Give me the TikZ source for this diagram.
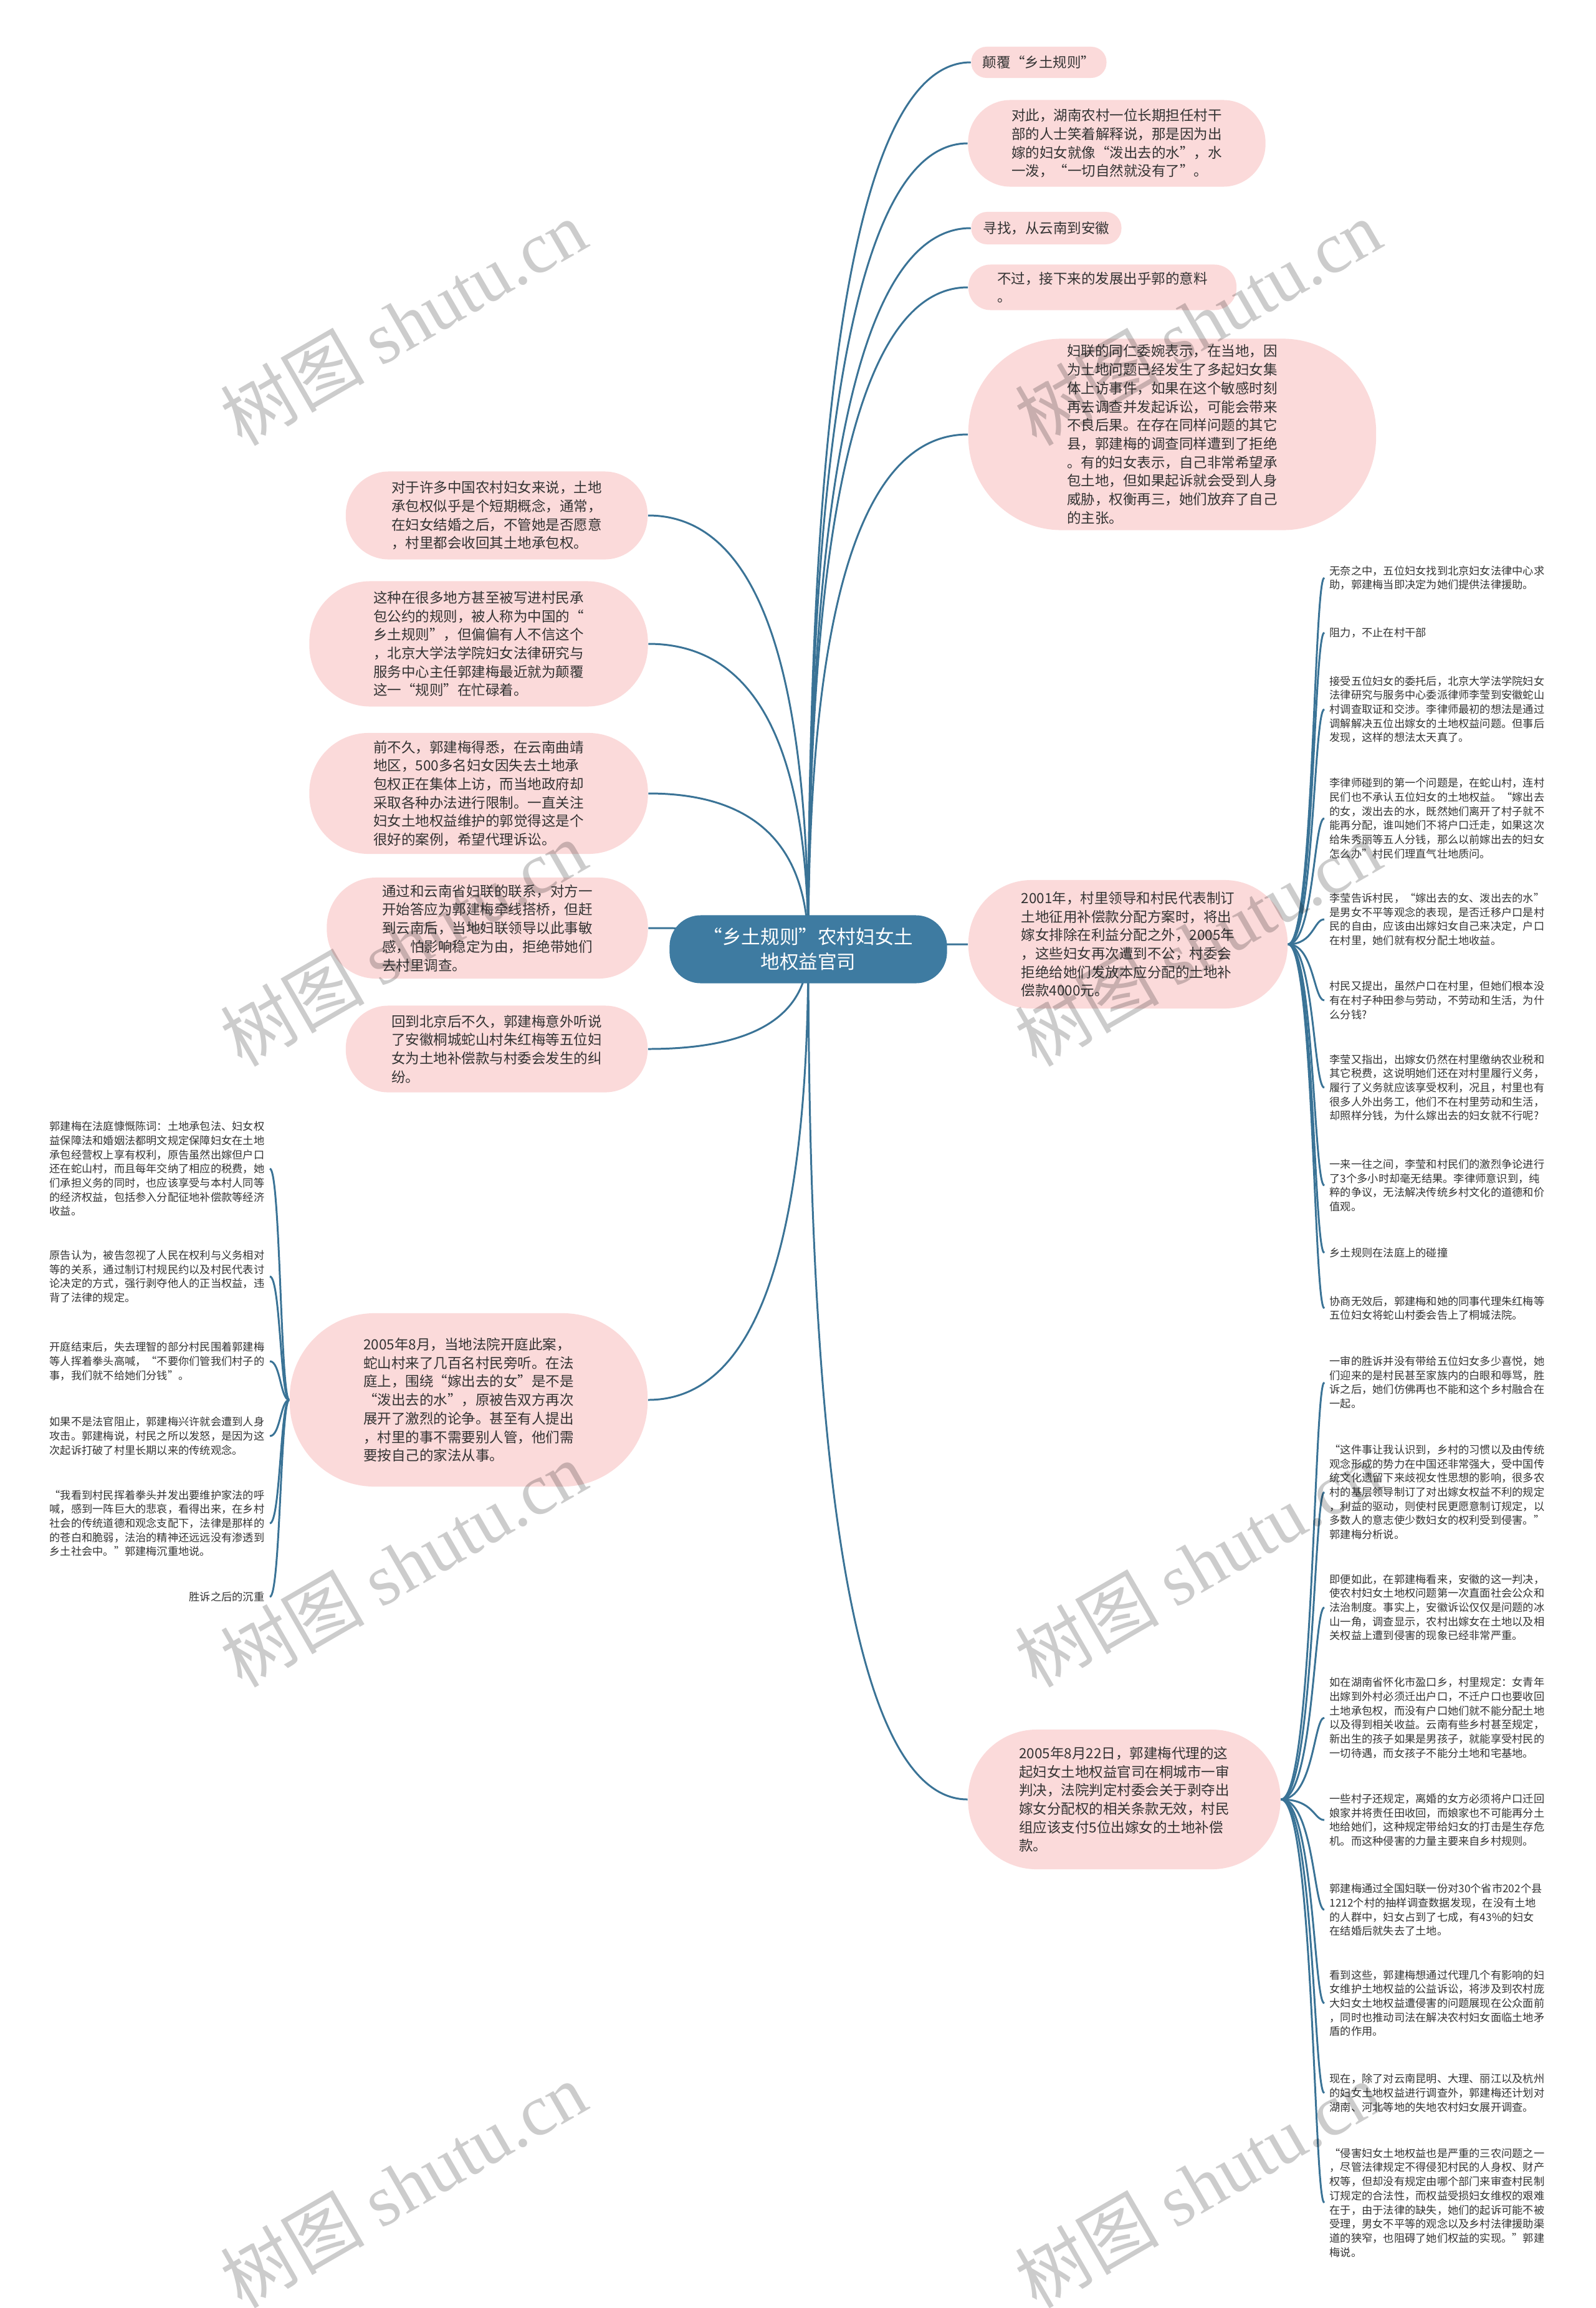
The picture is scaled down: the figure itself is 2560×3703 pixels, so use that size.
\documentclass[tikz,border=0pt]{standalone}
\usepackage{fontspec}
\setmainfont{Noto Sans CJK SC}
\newfontfamily\wmlatin{Liberation Serif}
\usetikzlibrary{calc,backgrounds}
\definecolor{hubblue}{RGB}{62,123,161}
\definecolor{linkblue}{RGB}{58,115,150}
\definecolor{pillpink}{RGB}{251,218,218}
\definecolor{textgray}{RGB}{51,51,51}
\tikzset{
  hub/.style={
    fill=hubblue,
    text=white,
    rounded corners=0.5cm,
    align=center,
    inner sep=0pt,
    font=\fontsize{8.7}{11.4}\selectfont
  },
  pill/.style={
    fill=pillpink,
    text=textgray,
    align=left,
    inner sep=0pt,
    font=\fontsize{6.4}{8.45}\selectfont
  },
  note/.style={
    text=textgray,
    align=left,
    inner ysep=0pt,
    inner xsep=0.08cm,
    font=\fontsize{4.9}{6.45}\selectfont
  },
  link/.style={
    draw=linkblue,
    line width=0.85pt
  },
  wmark/.style={
    rotate=30,
    text=black,
    text opacity=0.2,
    inner sep=0pt,
    font=\fontsize{33}{33}\selectfont
  }
}
% curve that leaves the hub vertically and meets the node horizontally
\newcommand\qlink[2]{\draw[link] (#1) .. controls ($(#1)!.667!(#1 |- #2)$) and ($(#2)!.667!(#1 |- #2)$) .. (#2);}

\begin{document}
\begin{tikzpicture}[x=0.01cm,y=-0.01cm]
\useasboundingbox (0,0) rectangle (2560,3703);

% hub
\node[hub,minimum width=4.45cm,minimum height=1.09cm] (hub) at (1297,1523) {“乡土规则”农村妇女土\\地权益官司};

% right side
\node[pill,minimum width=2.17cm,minimum height=0.5cm,rounded corners=0.245cm] (r1) at (1667,100) {颠覆“乡土规则”};
\node[pill,minimum width=4.77cm,minimum height=1.39cm,rounded corners=0.68cm] (r2) at (1792,230) {对此，湖南农村一位长期担任村干\\部的人士笑着解释说，那是因为出\\嫁的妇女就像“泼出去的水”，水\\一泼，“一切自然就没有了”。};
\node[pill,minimum width=2.41cm,minimum height=0.52cm,rounded corners=0.255cm] (r3) at (1679,366) {寻找，从云南到安徽};
\node[pill,minimum width=4.3cm,minimum height=0.73cm,rounded corners=0.355cm] (r4) at (1769,461) {不过，接下来的发展出乎郭的意料\\。};
\node[pill,minimum width=6.54cm,minimum height=3.07cm,rounded corners=1.5cm] (r5) at (1881,697) {妇联的同仁委婉表示，在当地，因\\为土地问题已经发生了多起妇女集\\体上访事件，如果在这个敏感时刻\\再去调查并发起诉讼，可能会带来\\不良后果。在存在同样问题的其它\\县，郭建梅的调查同样遭到了拒绝\\。有的妇女表示，自己非常希望承\\包土地，但如果起诉就会受到人身\\威胁，权衡再三，她们放弃了自己\\的主张。};
\node[pill,minimum width=5.12cm,minimum height=2.06cm,rounded corners=1.01cm] (r6) at (1810,1515) {2001年，村里领导和村民代表制订\\土地征用补偿款分配方案时，将出\\嫁女排除在利益分配之外，2005年\\，这些妇女再次遭到不公，村委会\\拒绝给她们发放本应分配的土地补\\偿款4000元。};
\node[pill,minimum width=5.01cm,minimum height=2.24cm,rounded corners=1.1cm] (r7) at (1804,2887) {2005年8月22日，郭建梅代理的这\\起妇女土地权益官司在桐城市一审\\判决，法院判定村委会关于剥夺出\\嫁女分配权的相关条款无效，村民\\组应该支付5位出嫁女的土地补偿\\款。};

% left side
\node[pill,minimum width=4.84cm,minimum height=1.41cm,rounded corners=0.69cm] (l1) at (797,827) {对于许多中国农村妇女来说，土地\\承包权似乎是个短期概念，通常，\\在妇女结婚之后，不管她是否愿意\\，村里都会收回其土地承包权。};
\node[pill,minimum width=5.43cm,minimum height=2.01cm,rounded corners=0.98cm] (l2) at (768,1033) {这种在很多地方甚至被写进村民承\\包公约的规则，被人称为中国的“\\乡土规则”，但偏偏有人不信这个\\，北京大学法学院妇女法律研究与\\服务中心主任郭建梅最近就为颠覆\\这一“规则”在忙碌着。};
\node[pill,minimum width=5.43cm,minimum height=1.94cm,rounded corners=0.95cm] (l3) at (768,1273) {前不久，郭建梅得悉，在云南曲靖\\地区，500多名妇女因失去土地承\\包权正在集体上访，而当地政府却\\采取各种办法进行限制。一直关注\\妇女土地权益维护的郭觉得这是个\\很好的案例，希望代理诉讼。};
\node[pill,minimum width=5.15cm,minimum height=1.62cm,rounded corners=0.79cm] (l4) at (782,1489) {通过和云南省妇联的联系，对方一\\开始答应为郭建梅牵线搭桥，但赶\\到云南后，当地妇联领导以此事敏\\感，怕影响稳定为由，拒绝带她们\\去村里调查。};
\node[pill,minimum width=4.84cm,minimum height=1.39cm,rounded corners=0.68cm] (l5) at (797,1683) {回到北京后不久，郭建梅意外听说\\了安徽桐城蛇山村朱红梅等五位妇\\女为土地补偿款与村委会发生的纠\\纷。};
\node[pill,minimum width=5.74cm,minimum height=2.78cm,rounded corners=1.36cm] (l6) at (752,2246) {2005年8月，当地法院开庭此案，\\蛇山村来了几百名村民旁听。在法\\庭上，围绕“嫁出去的女”是不是\\“泼出去的水”，原被告双方再次\\展开了激烈的论争。甚至有人提出\\，村里的事不需要别人管，他们需\\要按自己的家法从事。};

% notes of r6
\node[note,anchor=west] (a1) at (2125,927) {无奈之中，五位妇女找到北京妇女法律中心求\\助，郭建梅当即决定为她们提供法律援助。};
\node[note,anchor=west] (a2) at (2125,1015) {阻力，不止在村干部};
\node[note,anchor=west] (a3) at (2125,1138) {接受五位妇女的委托后，北京大学法学院妇女\\法律研究与服务中心委派律师李莹到安徽蛇山\\村调查取证和交涉。李律师最初的想法是通过\\调解解决五位出嫁女的土地权益问题。但事后\\发现，这样的想法太天真了。};
\node[note,anchor=west] (a4) at (2125,1313) {李律师碰到的第一个问题是，在蛇山村，连村\\民们也不承认五位妇女的土地权益。“嫁出去\\的女，泼出去的水，既然她们离开了村子就不\\能再分配，谁叫她们不将户口迁走，如果这次\\给朱秀丽等五人分钱，那么以前嫁出去的妇女\\怎么办”村民们理直气壮地质问。};
\node[note,anchor=west] (a5) at (2125,1475) {李莹告诉村民，“嫁出去的女、泼出去的水”\\是男女不平等观念的表现，是否迁移户口是村\\民的自由，应该由出嫁妇女自己来决定，户口\\在村里，她们就有权分配土地收益。};
\node[note,anchor=west] (a6) at (2125,1605) {村民又提出，虽然户口在村里，但她们根本没\\有在村子种田参与劳动，不劳动和生活，为什\\么分钱?};
\node[note,anchor=west] (a7) at (2125,1745) {李莹又指出，出嫁女仍然在村里缴纳农业税和\\其它税费，这说明她们还在对村里履行义务，\\履行了义务就应该享受权利，况且，村里也有\\很多人外出务工，他们不在村里劳动和生活，\\却照样分钱，为什么嫁出去的妇女就不行呢?};
\node[note,anchor=west] (a8) at (2125,1902) {一来一往之间，李莹和村民们的激烈争论进行\\了3个多小时却毫无结果。李律师意识到，纯\\粹的争议，无法解决传统乡村文化的道德和价\\值观。};
\node[note,anchor=west] (a9) at (2125,2010) {乡土规则在法庭上的碰撞};
\node[note,anchor=west] (a10) at (2125,2099) {协商无效后，郭建梅和她的同事代理朱红梅等\\五位妇女将蛇山村委会告上了桐城法院。};

% notes of r7
\node[note,anchor=west] (b1) at (2125,2218) {一审的胜诉并没有带给五位妇女多少喜悦，她\\们迎来的是村民甚至家族内的白眼和辱骂，胜\\诉之后，她们仿佛再也不能和这个乡村融合在\\一起。};
\node[note,anchor=west] (b2) at (2125,2394) {“这件事让我认识到，乡村的习惯以及由传统\\观念形成的势力在中国还非常强大，受中国传\\统文化遗留下来歧视女性思想的影响，很多农\\村的基层领导制订了对出嫁女权益不利的规定\\，利益的驱动，则使村民更愿意制订规定，以\\多数人的意志使少数妇女的权利受到侵害。”\\郭建梅分析说。};
\node[note,anchor=west] (b3) at (2125,2579) {即便如此，在郭建梅看来，安徽的这一判决，\\使农村妇女土地权问题第一次直面社会公众和\\法治制度。事实上，安徽诉讼仅仅是问题的冰\\山一角，调查显示，农村出嫁女在土地以及相\\关权益上遭到侵害的现象已经非常严重。};
\node[note,anchor=west] (b4) at (2125,2756) {如在湖南省怀化市盈口乡，村里规定：女青年\\出嫁到外村必须迁出户口，不迁户口也要收回\\土地承包权，而没有户口她们就不能分配土地\\以及得到相关收益。云南有些乡村甚至规定，\\新出生的孩子如果是男孩子，就能享受村民的\\一切待遇，而女孩子不能分土地和宅基地。};
\node[note,anchor=west] (b5) at (2125,2920) {一些村子还规定，离婚的女方必须将户口迁回\\娘家并将责任田收回，而娘家也不可能再分土\\地给她们，这种规定带给妇女的打击是生存危\\机。而这种侵害的力量主要来自乡村规则。};
\node[note,anchor=west] (b6) at (2125,3064) {郭建梅通过全国妇联一份对30个省市202个县\\1212个村的抽样调查数据发现，在没有土地\\的人群中，妇女占到了七成，有43\%的妇女\\在结婚后就失去了土地。};
\node[note,anchor=west] (b7) at (2125,3214) {看到这些，郭建梅想通过代理几个有影响的妇\\女维护土地权益的公益诉讼，将涉及到农村庞\\大妇女土地权益遭侵害的问题展现在公众面前\\，同时也推动司法在解决农村妇女面临土地矛\\盾的作用。};
\node[note,anchor=west] (b8) at (2125,3358) {现在，除了对云南昆明、大理、丽江以及杭州\\的妇女土地权益进行调查外，郭建梅还计划对\\湖南、河北等地的失地农村妇女展开调查。};
\node[note,anchor=west] (b9) at (2125,3534) {“侵害妇女土地权益也是严重的三农问题之一\\，尽管法律规定不得侵犯村民的人身权、财产\\权等，但却没有规定由哪个部门来审查村民制\\订规定的合法性，而权益受损妇女维权的艰难\\在于，由于法律的缺失，她们的起诉可能不被\\受理，男女不平等的观念以及乡村法律援助渠\\道的狭窄，也阻碍了她们权益的实现。”郭建\\梅说。};

% notes of l6
\node[note,anchor=east] (c1) at (433,1875) {郭建梅在法庭慷慨陈词：土地承包法、妇女权\\益保障法和婚姻法都明文规定保障妇女在土地\\承包经营权上享有权利，原告虽然出嫁但户口\\还在蛇山村，而且每年交纳了相应的税费，她\\们承担义务的同时，也应该享受与本村人同等\\的经济权益，包括参入分配征地补偿款等经济\\收益。};
\node[note,anchor=east] (c2) at (433,2048) {原告认为，被告忽视了人民在权利与义务相对\\等的关系，通过制订村规民约以及村民代表讨\\论决定的方式，强行剥夺他人的正当权益，违\\背了法律的规定。};
\node[note,anchor=east] (c3) at (433,2184) {开庭结束后，失去理智的部分村民围着郭建梅\\等人挥着拳头高喊，“不要你们管我们村子的\\事，我们就不给她们分钱”。};
\node[note,anchor=east] (c4) at (433,2304) {如果不是法官阻止，郭建梅兴许就会遭到人身\\攻击。郭建梅说，村民之所以发怒，是因为这\\次起诉打破了村里长期以来的传统观念。};
\node[note,anchor=east] (c5) at (433,2444) {“我看到村民挥着拳头并发出要维护家法的呼\\喊，感到一阵巨大的悲哀，看得出来，在乡村\\社会的传统道德和观念支配下，法律是那样的\\的苍白和脆弱，法治的精神还远远没有渗透到\\乡土社会中。”郭建梅沉重地说。};
\node[note,anchor=east] (c6) at (433,2562) {胜诉之后的沉重};

\coordinate (rtrunk) at (2108,0);
\coordinate (ltrunk) at (450,0);

\begin{scope}[on background layer]
\qlink{hub.center}{r1.west}
\qlink{hub.center}{r2.west}
\qlink{hub.center}{r3.west}
\qlink{hub.center}{r4.west}
\qlink{hub.center}{r5.west}
\qlink{hub.center}{r6.west}
\qlink{hub.center}{r7.west}
\qlink{hub.center}{l1.east}
\qlink{hub.center}{l2.east}
\qlink{hub.center}{l3.east}
\qlink{hub.center}{l4.east}
\qlink{hub.center}{l5.east}
\qlink{hub.center}{l6.east}
\foreach \i in {1,...,10}
  \draw[link] (r6.east) .. controls (r6.east -| rtrunk) and (a\i.west -| rtrunk) .. (a\i.west);
\foreach \i in {1,...,9}
  \draw[link] (r7.east) .. controls (r7.east -| rtrunk) and (b\i.west -| rtrunk) .. (b\i.west);
\foreach \i in {1,...,6}
  \draw[link] (l6.west) .. controls (l6.west -| ltrunk) and (c\i.east -| ltrunk) .. (c\i.east);
\end{scope}

% watermark
\foreach \y in {517,1513,2509,3505} {
  \node[wmark] at (647,\y) {树图 {\wmlatin shutu.cn}};
  \node[wmark] at (1922,\y) {树图 {\wmlatin shutu.cn}};
}
\end{tikzpicture}
\end{document}
